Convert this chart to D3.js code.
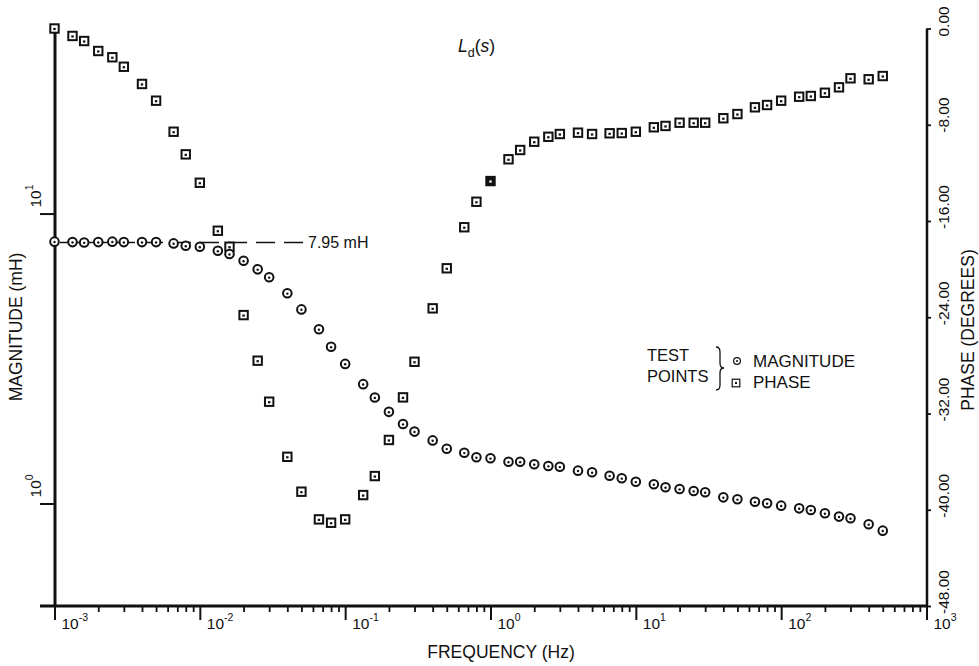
<!DOCTYPE html>
<html>
<head>
<meta charset="utf-8">
<script src="https://cdn.jsdelivr.net/npm/d3@7"></script>
<style>
  body { margin: 0; background: #fff; }
  svg { display: block; }
  text { font-family: "Liberation Sans", Arial, Helvetica, sans-serif; fill: #111; }
</style>
</head>
<body>
<svg id="chart" width="979" height="666"></svg>
<script>
// Test frequencies (Hz)
const freq = [
  0.001, 0.00133, 0.0016, 0.002, 0.0025, 0.003, 0.004, 0.005, 0.0066, 0.008,
  0.01, 0.0133, 0.016, 0.02, 0.025, 0.03, 0.04, 0.05, 0.066, 0.08,
  0.1, 0.133, 0.16, 0.2, 0.25, 0.3, 0.4, 0.5, 0.66, 0.8,
  1, 1.33, 1.6, 2, 2.5, 3, 4, 5, 6.6, 8,
  10, 13.3, 16, 20, 25, 30, 40, 50, 66, 80,
  100, 133, 160, 200, 250, 300, 400, 500
];
// |Ld| in mH
const magnitude = [
  8.0, 7.97, 7.95, 7.97, 8.0, 7.97, 7.97, 7.97, 7.89, 7.74,
  7.68, 7.44, 7.25, 6.87, 6.42, 6.03, 5.31, 4.67, 3.99, 3.47,
  3.03, 2.58, 2.32, 2.07, 1.88, 1.77, 1.65, 1.545, 1.497, 1.443,
  1.432, 1.393, 1.393, 1.365, 1.347, 1.339, 1.298, 1.281, 1.247, 1.222,
  1.189, 1.165, 1.137, 1.122, 1.104, 1.093, 1.05, 1.034, 1.014, 1.002,
  0.983, 0.962, 0.950, 0.925, 0.901, 0.889, 0.848, 0.806
];
// phase of Ld in degrees
const phase = [
  0, -0.62, -1.04, -1.87, -2.39, -3.18, -4.61, -6.0, -8.58, -10.46,
  -12.82, -16.81, -18.14, -23.82, -27.61, -31.02, -35.6, -38.5, -40.8, -41.08,
  -40.8, -38.78, -37.2, -34.2, -30.66, -27.7, -23.26, -19.93, -16.52, -14.4,
  -12.68, -10.87, -10.1, -9.41, -9.0, -8.77, -8.66, -8.77, -8.71, -8.69,
  -8.58, -8.21, -8.1, -7.83, -7.83, -7.83, -7.46, -7.11, -6.55, -6.36,
  -6.0, -5.67, -5.61, -5.34, -4.89, -4.14, -4.22, -3.95
];
const freqTicks = [1e-3, 1e-2, 1e-1, 1, 10, 100, 1000];
const freqTickExp = ["-3", "-2", "-1", "0", "1", "2", "3"];
const magTicks = [1, 10];
const magTickExp = ["0", "1"];
const phaseTicks = [0, -8, -16, -24, -32, -40, -48];
const lowFreqInductance = 7.95;   // mH
const solidPhaseFreq = [1];       // phase point printed solid

const svg = d3.select("#chart");
const ink = "#111";

const x = d3.scaleLog().domain([1e-3, 1e3]).range([54.5, 926.5]);
const yMag = d3.scaleLog().domain([0.443, 44.7]).range([606, 25]);
const yPh = d3.scaleLinear().domain([-48, 0]).range([606, 28.5]);

// ---- frequency axis ----
const gx = svg.append("g").attr("transform", "translate(0,606)")
  .call(d3.axisBottom(x).tickValues(freqTicks).tickSize(14).tickFormat(""));
gx.select(".domain").remove();
gx.selectAll(".tick line").attr("stroke", ink).attr("stroke-width", 2);

const minorTicks = x.ticks().filter(v => !freqTicks.some(t => Math.abs(t - v) / t < 1e-6));
const gxm = svg.append("g").attr("transform", "translate(0,606)")
  .call(d3.axisBottom(x).tickValues(minorTicks).tickSize(6).tickFormat(""));
gxm.select(".domain").remove();
gxm.selectAll(".tick line").attr("stroke", ink).attr("stroke-width", 1.8);

svg.append("line").attr("x1", 40).attr("x2", 927).attr("y1", 606).attr("y2", 606)
  .attr("stroke", ink).attr("stroke-width", 3);

const fxLab = svg.append("g").selectAll("text").data(freqTicks).join("text")
  .attr("x", d => x(d) + 7).attr("y", 629).attr("font-size", 15.5);
fxLab.append("tspan").text("10");
fxLab.append("tspan").attr("font-size", 10.5).attr("dy", -8).text((d, i) => freqTickExp[i]);

svg.append("text").attr("x", 501).attr("y", 658).attr("text-anchor", "middle")
  .attr("font-size", 17.5).text("FREQUENCY (Hz)");

// ---- magnitude axis (left) ----
svg.append("line").attr("x1", 55).attr("x2", 55).attr("y1", 25).attr("y2", 607)
  .attr("stroke", ink).attr("stroke-width", 3);
const gl = svg.append("g").attr("transform", "translate(55,0)")
  .call(d3.axisLeft(yMag).tickValues(magTicks).tickSize(15).tickFormat(""));
gl.select(".domain").remove();
gl.selectAll(".tick line").attr("stroke", ink).attr("stroke-width", 2);

const mLab = svg.append("g").selectAll("text").data(magTicks).join("text")
  .attr("transform", d => `translate(41,${yMag(d) - 6}) rotate(-90)`)
  .attr("font-size", 15.5);
mLab.append("tspan").text("10");
mLab.append("tspan").attr("font-size", 10.5).attr("dy", -8).text((d, i) => magTickExp[i]);

svg.append("text").attr("transform", "translate(22,327) rotate(-90)")
  .attr("text-anchor", "middle").attr("font-size", 17.5).text("MAGNITUDE (mH)");

// ---- phase axis (right) ----
svg.append("line").attr("x1", 927).attr("x2", 927).attr("y1", 28.5).attr("y2", 607)
  .attr("stroke", ink).attr("stroke-width", 2.5);
const gr = svg.append("g").attr("transform", "translate(927,0)")
  .call(d3.axisRight(yPh).tickValues(phaseTicks).tickSize(4).tickFormat(""));
gr.select(".domain").remove();
gr.selectAll(".tick line").attr("stroke", ink).attr("stroke-width", 1.8);

svg.append("g").selectAll("text").data(phaseTicks).join("text")
  .attr("transform", d => `translate(949,${yPh(d) + 8}) rotate(-90)`)
  .attr("font-size", 15.5).text(d => d.toFixed(2));

svg.append("text").attr("transform", "translate(973.5,330) rotate(-90)")
  .attr("text-anchor", "middle").attr("font-size", 17.5).text("PHASE (DEGREES)");

// ---- title ----
const title = svg.append("text").attr("x", 458).attr("y", 52).attr("font-size", 17.5);
title.append("tspan").attr("font-style", "italic").text("L");
title.append("tspan").attr("font-size", 12.5).attr("dy", 5).text("d");
title.append("tspan").attr("dy", -5).text("(");
title.append("tspan").attr("font-style", "italic").text("s");
title.append("tspan").text(")");

// ---- low-frequency asymptote ----
const yRef = yMag(lowFreqInductance);
svg.append("line").attr("x1", 303).attr("x2", x(1e-3)).attr("y1", yRef).attr("y2", yRef)
  .attr("stroke", ink).attr("stroke-width", 1.5).attr("stroke-dasharray", "19,9");
svg.append("text").attr("x", 308).attr("y", yRef + 5.5).attr("font-size", 16)
  .text(`${lowFreqInductance} mH`);

// ---- markers ----
function squareMark(g, size, sw, solid) {
  g.append("rect").attr("x", -size / 2).attr("y", -size / 2).attr("width", size).attr("height", size)
    .attr("fill", solid ? ink : "#fff").attr("stroke", ink).attr("stroke-width", sw);
  g.append("rect").attr("x", -1.2).attr("y", -0.6).attr("width", 2.4).attr("height", 2.2)
    .attr("fill", solid ? "#fff" : ink);
}
function circleMark(g, r, sw) {
  g.append("circle").attr("r", r).attr("fill", "#fff").attr("stroke", ink).attr("stroke-width", sw);
  g.append("circle").attr("cy", 0.4).attr("r", 1.2).attr("fill", ink);
}

const phasePts = svg.append("g").selectAll("g").data(freq.map((f, i) => ({ f, p: phase[i] })))
  .join("g").attr("transform", d => `translate(${x(d.f)},${yPh(d.p)})`);
phasePts.each(function (d) { squareMark(d3.select(this), 8.4, 2, solidPhaseFreq.includes(d.f)); });

const magPts = svg.append("g").selectAll("g").data(freq.map((f, i) => ({ f, m: magnitude[i] })))
  .join("g").attr("transform", d => `translate(${x(d.f)},${yMag(d.m)})`);
magPts.each(function () { circleMark(d3.select(this), 4.3, 2); });

// ---- legend ----
const leg = svg.append("g");
leg.append("text").attr("x", 647).attr("y", 361).attr("font-size", 16.5).text("TEST");
leg.append("text").attr("x", 647).attr("y", 382).attr("font-size", 16.5).text("POINTS");
leg.append("path")
  .attr("d", "M716,347 Q720,347 720,352 L720,363 Q720,368 724,368 Q720,368 720,373 L720,385 Q720,390 716,390")
  .attr("fill", "none").attr("stroke", ink).attr("stroke-width", 1.3);
const lc = leg.append("g").attr("transform", "translate(737,361)");
lc.append("circle").attr("r", 3.4).attr("fill", "#fff").attr("stroke", ink).attr("stroke-width", 1.2);
lc.append("circle").attr("r", 1).attr("fill", ink);
leg.append("text").attr("x", 753).attr("y", 367).attr("font-size", 17).text("MAGNITUDE");
const ls = leg.append("g").attr("transform", "translate(736,383)");
ls.append("rect").attr("x", -3.8).attr("y", -3.8).attr("width", 7.6).attr("height", 7.6)
  .attr("fill", "#fff").attr("stroke", ink).attr("stroke-width", 1.2);
ls.append("rect").attr("x", -1).attr("y", -1).attr("width", 2).attr("height", 2).attr("fill", ink);
leg.append("text").attr("x", 753).attr("y", 388).attr("font-size", 17).text("PHASE");
</script>
</body>
</html>
